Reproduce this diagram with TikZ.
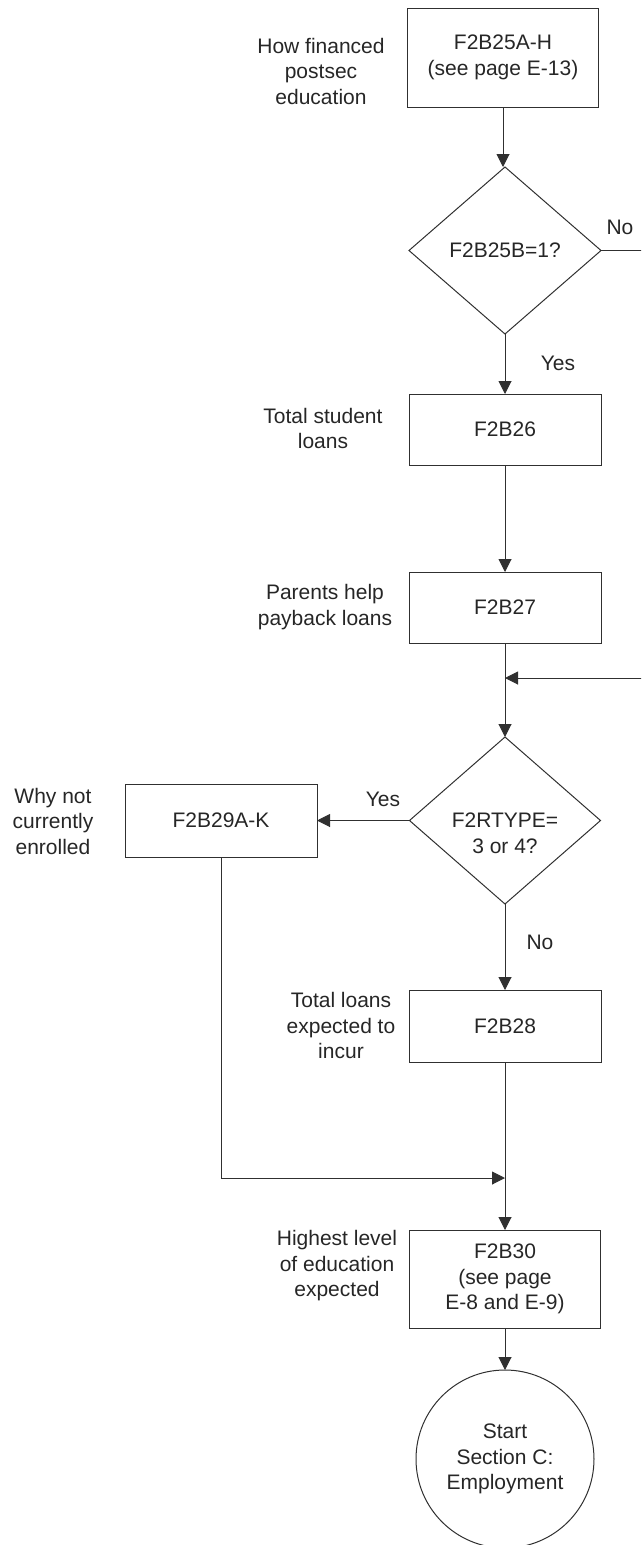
\documentclass[tikz,border=0pt]{standalone}
\usepackage{fontspec}
\setmainfont{Liberation Sans}
\usetikzlibrary{shapes.geometric,arrows.meta}
\definecolor{ink}{HTML}{262626}
\definecolor{linec}{HTML}{303030}
\begin{document}
\begin{tikzpicture}[x=1pt,y=-1pt,
  every node/.style={font={\fontsize{21}{25.5}\selectfont}, text=ink},
  qbox/.style={draw=linec, line width=1pt, rectangle, inner sep=0pt, outer sep=0pt, align=center},
  qdiam/.style={draw=linec, line width=1pt, diamond, inner sep=0pt, outer sep=0pt, align=center},
  qcirc/.style={draw=linec, line width=1pt, circle, inner sep=0pt, outer sep=0pt, align=center, minimum size=178pt},
  side/.style={align=center},
  flow/.style={draw=linec, line width=1pt, -{Triangle[length=13pt,width=13pt]}},
  plain/.style={draw=linec, line width=1pt}
]
\useasboundingbox (0,0) rectangle (641,1545);
\clip (0,0) rectangle (641,1545);

% boxes
\node[qbox, minimum width=191pt, minimum height=99pt] (b1) at (503,57.5) {F2B25A-H\\(see page E-13)};
\node[qdiam, minimum width=192pt, minimum height=167pt] (d1) at (505,250.5) {F2B25B=1?};
\node[qbox, minimum width=192pt, minimum height=71pt] (b26) at (505,429.5) {F2B26};
\node[qbox, minimum width=192pt, minimum height=71pt] (b27) at (505,607.5) {F2B27};
\node[qdiam, minimum width=191pt, minimum height=167pt,
      label={[yshift=-13pt,align=center]center:F2RTYPE=\\3 or 4?}] (d2) at (505,820.5) {};
\node[qbox, minimum width=192pt, minimum height=73pt] (b29) at (221,820.5) {F2B29A-K};
\node[qbox, minimum width=192pt, minimum height=72pt] (b28) at (505,1026) {F2B28};
\node[qbox, minimum width=191pt, minimum height=98pt] (b30) at (505,1279) {F2B30\\(see page\\E-8 and E-9)};
\node[qcirc] (c) at (505,1459) {Start\\Section C:\\Employment};

% side labels
\node[side] (l1) at (321,71) {How financed\\postsec\\education};
\node[side] (l26) at (323,428.5) {Total student\\loans};
\node[side] (l27) at (325,607) {Parents help\\payback loans};
\node[side] (l29) at (53,821) {Why not\\currently\\enrolled};
\node[side] (l28) at (341,1025.5) {Total loans\\expected to\\incur};
\node[side] (l30) at (337,1266) {Highest level\\of education\\expected};

% edge labels
\node (no1) at (620,227) {No};
\node (yes1) at (558,363) {Yes};
\node (yes2) at (383,799) {Yes};
\node (no2) at (540,942) {No};

% helper coordinates
\coordinate (r1) at (650,250.5);
\coordinate (r2) at (650,678);
\coordinate (j1) at (505,678);
\coordinate (j2) at (505,1178);

% connectors
\draw[flow] (b1.south) -- (b1.south |- d1.north);
\draw[flow] (d1.south) -- (d1.south |- b26.north);
\draw[flow] (b26.south) -- (b27.north);
\draw[flow] (b27.south) -- (d2.north);
\draw[plain] (d1.east) -- (r1) -- (r2);
\draw[flow] (r2) -- (j1);
\draw[flow] (d2.west) -- (b29.east);
\draw[flow] (d2.south) -- (b28.north);
\draw[flow] (b28.south) -- (b30.north);
\draw[flow] (b29.south) |- (j2);
\draw[flow] (b30.south) -- (c.north);
\end{tikzpicture}
\end{document}
